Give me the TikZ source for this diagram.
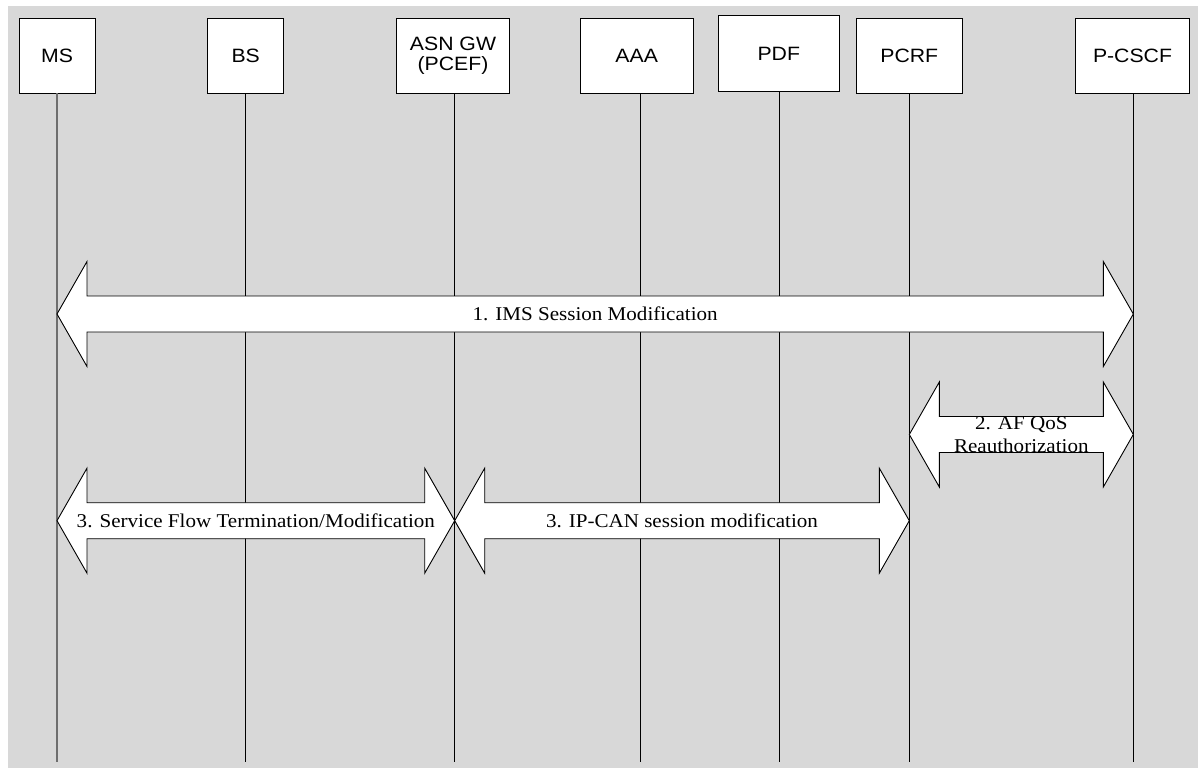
\documentclass[tikz,border=0pt]{standalone}
\usepackage{fontspec}
\setmainfont[FakeStretch=1.08]{Liberation Serif}
\newfontfamily\boxfont[FakeStretch=1.1]{Liberation Sans}
\usetikzlibrary{calc}

\definecolor{panel}{RGB}{216,216,216}
\definecolor{msline}{RGB}{110,110,110}

\tikzset{
  entity/.style={draw=black, fill=white, line width=0.9pt, minimum height=75pt,
    inner sep=0pt, align=center, font=\boxfont\fontsize{19.3}{20}\selectfont},
  lifeline/.style={draw=black, line width=1.1pt},
  blockarrow/.style={draw=black, fill=white, line width=0.9pt, line join=miter},
  msglabel/.style={font=\fontsize{19.5}{23.5}\selectfont, align=center, inner sep=0pt}
}

% double-headed block arrow between two lifelines at height #3
\newcommand\twoway[4]{%
  \path[blockarrow] let \p1=(#1), \p2=(#2), \p3=(0,#3) in
    (\x1,\y3) -- (\x1+30pt,\y3+52.5pt) -- (\x1+30pt,\y3+18pt)
    -- (\x2-30pt,\y3+18pt) -- (\x2-30pt,\y3+52.5pt) -- (\x2,\y3)
    -- (\x2-30pt,\y3-52.5pt) -- (\x2-30pt,\y3-18pt)
    -- (\x1+30pt,\y3-18pt) -- (\x1+30pt,\y3-52.5pt) -- cycle;
  \path let \p1=(#1), \p2=(#2), \p3=(0,#3) in
    (\x1/2+\x2/2,\y3) node[msglabel] {#4};
}

\begin{document}
\begin{tikzpicture}[x=1pt, y=-1pt]
\useasboundingbox (0,0) rectangle (1198,768);
\fill[panel] (8,6) rectangle (1198,768);

% entities
\node[entity, minimum width=76pt]    (MS)    at (57,55.5)     {MS};
\node[entity, minimum width=76pt]    (BS)    at (245.7,55.5)  {BS};
\node[entity, minimum width=113.4pt] (ASN)   at (453,55.5)    {ASN GW\\(PCEF)};
\node[entity, minimum width=113.4pt] (AAA)   at (636.7,55.5)  {AAA};
\node[entity, minimum width=121pt, minimum height=75.7pt] (PDF) at (778.8,53.8) {PDF};
\node[entity, minimum width=106pt]   (PCRF)  at (909.3,55.5)  {PCRF};
\node[entity, minimum width=113.6pt] (PCSCF) at (1132.5,55.5) {P-CSCF};

% lifeline tops and the common bottom
\coordinate (bottom) at (0,762);
\coordinate (lMS)    at (57,93);
\coordinate (lBS)    at (245.3,93);
\coordinate (lASN)   at (454.7,93);
\coordinate (lAAA)   at (640.7,93);
\coordinate (lPDF)   at (779.4,91.7);
\coordinate (lPCRF)  at (909.3,93);
\coordinate (lPCSCF) at (1133.3,93);

\draw[lifeline, draw=msline, line width=1.5pt] (lMS) -- (lMS |- bottom);
\foreach \l in {lBS,lASN,lAAA,lPDF,lPCRF,lPCSCF}
  \draw[lifeline] (\l) -- (\l |- bottom);

% messages
\twoway{lMS}{lPCSCF}{314}{1. IMS Session Modification}
\twoway{lPCRF}{lPCSCF}{434.5}{2. AF QoS\\Reauthorization}
\twoway{lMS}{lASN}{520.7}{3. Service Flow Termination/Modification}
\twoway{lASN}{lPCRF}{520.7}{3. IP-CAN session modification}
\end{tikzpicture}
\end{document}
